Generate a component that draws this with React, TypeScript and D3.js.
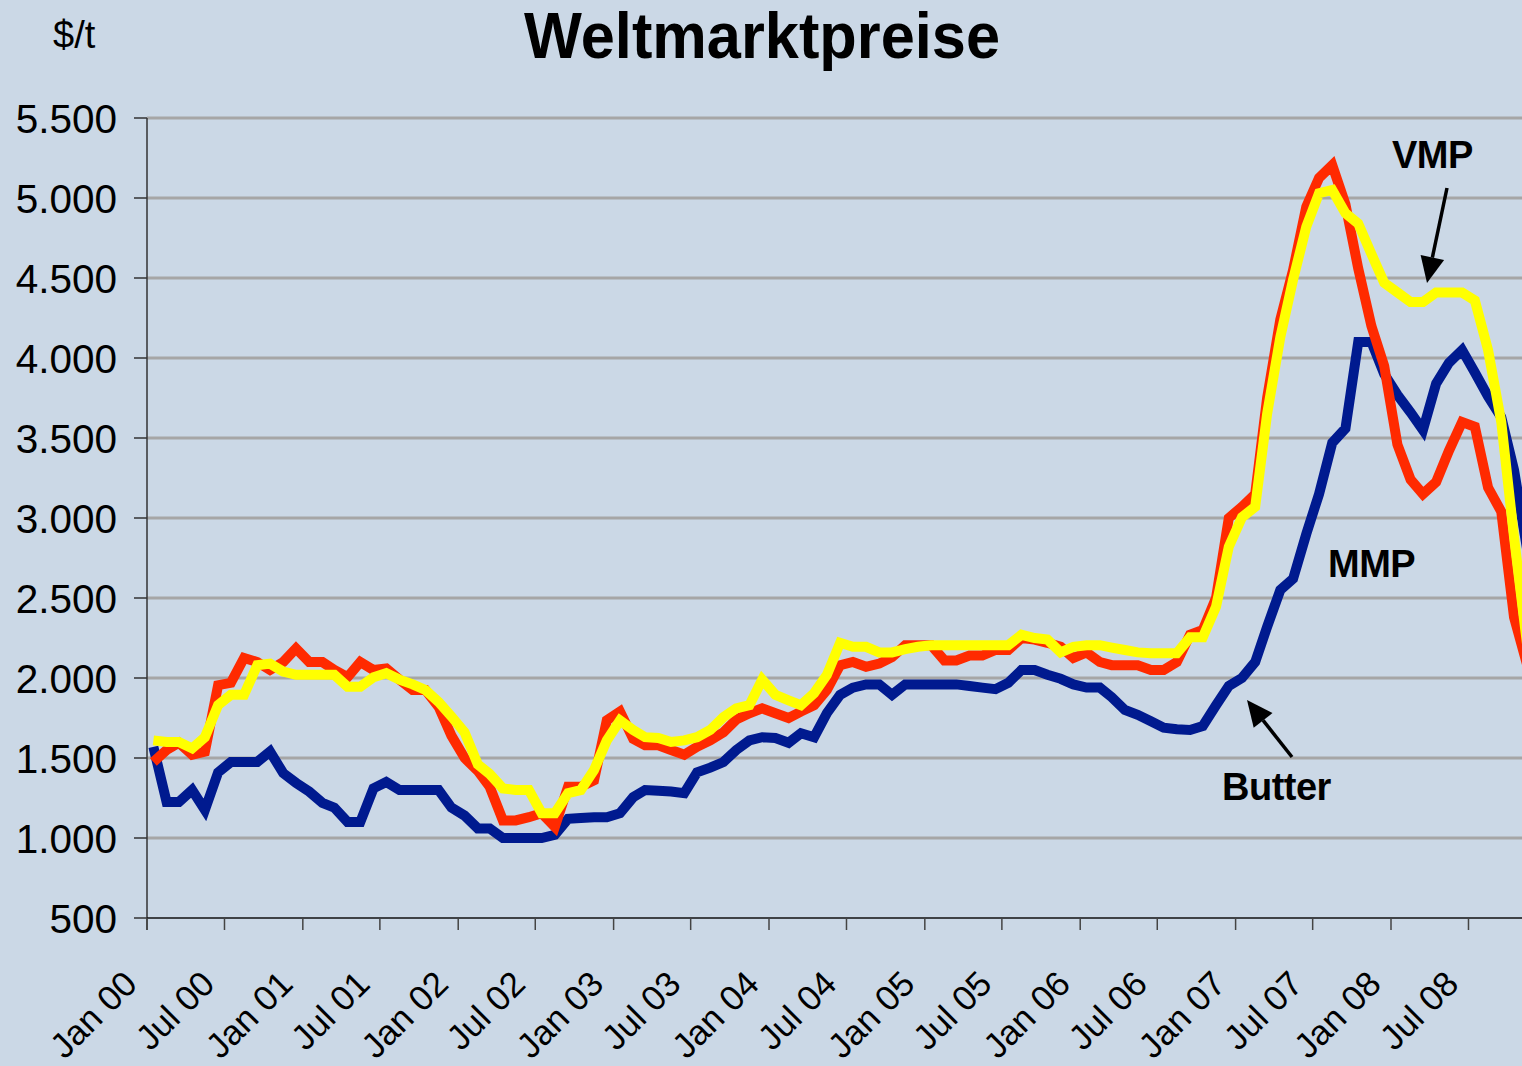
import React, { useEffect, useRef } from "react";
import * as d3 from "d3";

// monthly world market prices in $/t, Jan 2000 .. Nov 2008
const butter = [
  1570, 1225, 1225, 1300, 1175, 1410, 1475, 1475, 1475, 1540, 1405, 1345,
  1290, 1220, 1190, 1100, 1100, 1310, 1350, 1300, 1300, 1300, 1300, 1190,
  1140, 1060, 1060, 1000, 1000, 1000, 1000, 1020, 1120, 1125, 1130, 1130,
  1155, 1255, 1300, 1295, 1290, 1280, 1410, 1440, 1475, 1550, 1610, 1630,
  1625, 1595, 1655, 1630, 1780, 1895, 1940, 1960, 1960, 1895, 1960, 1960,
  1960, 1960, 1960, 1950, 1940, 1930, 1970, 2050, 2050, 2020, 1995, 1960,
  1940, 1940, 1880, 1800, 1770, 1730, 1690, 1680, 1675, 1700, 1830, 1950,
  2000, 2100, 2320, 2550, 2620, 2900, 3150, 3470, 3560, 4100, 4100, 3900,
  3770, 3660, 3550, 3840, 3970, 4050, 3910, 3760, 3630, 3300, 2800,
];

const mmp = [
  1475, 1550, 1595, 1520, 1540, 1955, 1970, 2125, 2100, 2050, 2100, 2185,
  2100, 2100, 2050, 2005, 2100, 2050, 2060, 1990, 1925, 1925, 1820, 1640,
  1500, 1420, 1320, 1110, 1110, 1130, 1155, 1070, 1320, 1320, 1360, 1735,
  1790, 1620, 1580, 1580, 1550, 1520, 1570, 1610, 1660, 1740, 1780, 1810,
  1780, 1750, 1790, 1830, 1925, 2080, 2100, 2070, 2090, 2130, 2205, 2205,
  2205, 2110, 2110, 2140, 2140, 2175, 2175, 2250, 2240, 2220, 2195, 2125,
  2160, 2100, 2080, 2080, 2080, 2050, 2050, 2100, 2270, 2300, 2500, 3000,
  3070, 3150, 3750, 4240, 4550, 4945, 5125, 5205, 4960, 4560, 4200, 3950,
  3460, 3240, 3150, 3225, 3420, 3600, 3570, 3190, 3040, 2380, 2080,
];

const vmp = [
  1610, 1600, 1600, 1560, 1630, 1830, 1895, 1895, 2080, 2090, 2040, 2020,
  2020, 2020, 2020, 1945, 1945, 2005, 2030, 1990, 1960, 1925, 1850, 1760,
  1660, 1460, 1400, 1310, 1300, 1300, 1155, 1155, 1280, 1300, 1425, 1610,
  1735, 1675, 1630, 1625, 1600, 1610, 1630, 1675, 1755, 1810, 1830, 1990,
  1895, 1860, 1830, 1905, 2020, 2220, 2195, 2195, 2160, 2160, 2180, 2195,
  2205, 2205, 2205, 2205, 2205, 2205, 2205, 2270, 2250, 2240, 2160, 2195,
  2205, 2205, 2190, 2175, 2160, 2155, 2155, 2155, 2255, 2255, 2445, 2820,
  3005, 3070, 3650, 4130, 4490, 4820, 5030, 5050, 4905, 4840, 4650, 4470,
  4410, 4350, 4350, 4410, 4410, 4410, 4360, 4050, 3600, 2880, 2200,
];

const yTicks = [500, 1000, 1500, 2000, 2500, 3000, 3500, 4000, 4500, 5000, 5500];

const W = 1522;
const H = 1066;
const FONT = "'Liberation Sans', Arial, Helvetica, sans-serif";

const deFormat = d3.formatLocale({
  decimal: ",",
  thousands: ".",
  grouping: [3],
  currency: ["", " €"],
}).format(",");

export default function App() {
  const ref = useRef<SVGSVGElement>(null);

  useEffect(() => {
    const svg = d3.select(ref.current);
    svg.selectAll("*").remove();

    const margin = { left: 147, top: 118, bottom: 918 };

    // data points sit in the middle of each month
    const dateOf = (i: number) => new Date(2000, i, 16);

    const xScale = d3
      .scaleTime()
      .domain([new Date(2000, 0, 1), new Date(2008, 0, 1)])
      .range([margin.left, 1391]);

    const yScale = d3
      .scaleLinear()
      .domain([500, 5500])
      .range([margin.bottom, margin.top]);

    svg.append("rect").attr("width", W).attr("height", H).attr("fill", "#cbd8e6");

    /** gridlines */
    svg
      .append("g")
      .selectAll("line")
      .data(yTicks.slice(1))
      .join("line")
      .attr("x1", margin.left)
      .attr("x2", W)
      .attr("y1", (d) => yScale(d))
      .attr("y2", (d) => yScale(d))
      .attr("stroke", "#a6a6a6")
      .attr("stroke-width", 3);

    /** y axis */
    const yAxis = svg.append("g");
    yAxis
      .append("line")
      .attr("x1", margin.left)
      .attr("x2", margin.left)
      .attr("y1", yScale(5500))
      .attr("y2", yScale(500) + 12)
      .attr("stroke", "#333")
      .attr("stroke-width", 1.5);
    yAxis
      .selectAll("line.tick")
      .data(yTicks)
      .join("line")
      .attr("class", "tick")
      .attr("x1", margin.left - 13)
      .attr("x2", margin.left)
      .attr("y1", (d) => yScale(d))
      .attr("y2", (d) => yScale(d))
      .attr("stroke", "#333")
      .attr("stroke-width", 1.5);
    yAxis
      .selectAll("text")
      .data(yTicks)
      .join("text")
      .attr("x", 117)
      .attr("y", (d) => yScale(d))
      .attr("dy", "0.36em")
      .attr("text-anchor", "end")
      .attr("font-family", FONT)
      .attr("font-size", 40.5)
      .attr("fill", "#000")
      .text((d) => deFormat(d));

    /** x axis */
    const xTicks = d3.timeMonth.every(6)!.range(new Date(2000, 0, 1), new Date(2009, 0, 1));
    const fmt = d3.timeFormat("%b %y");
    const xAxis = svg.append("g");
    xAxis
      .append("line")
      .attr("x1", margin.left)
      .attr("x2", W)
      .attr("y1", margin.bottom)
      .attr("y2", margin.bottom)
      .attr("stroke", "#111")
      .attr("stroke-width", 1.5);
    xAxis
      .selectAll("line.tick")
      .data(xTicks)
      .join("line")
      .attr("class", "tick")
      .attr("x1", (d) => xScale(d))
      .attr("x2", (d) => xScale(d))
      .attr("y1", margin.bottom)
      .attr("y2", margin.bottom + 12)
      .attr("stroke", "#444")
      .attr("stroke-width", 1.5);
    xAxis
      .selectAll("text")
      .data(xTicks)
      .join("text")
      .attr("transform", (d) => `translate(${xScale(d) - 8}, 986) rotate(-45)`)
      .attr("text-anchor", "end")
      .attr("font-family", FONT)
      .attr("font-size", 35)
      .attr("fill", "#000")
      .text((d) => fmt(d));

    /** series */
    const line = d3
      .line<number>()
      .x((_, i) => xScale(dateOf(i)))
      .y((d) => yScale(d));

    const series = [
      { values: butter, color: "#001a8f" },
      { values: mmp, color: "#ff2a00" },
      { values: vmp, color: "#ffff00" },
    ];
    svg
      .append("g")
      .selectAll("path")
      .data(series)
      .join("path")
      .attr("d", (d) => line(d.values))
      .attr("fill", "none")
      .attr("stroke", (d) => d.color)
      .attr("stroke-width", 10)
      .attr("stroke-linejoin", "miter")
      .attr("stroke-miterlimit", 3);

    /** title and unit */
    svg
      .append("text")
      .attr("x", 762)
      .attr("y", 58)
      .attr("text-anchor", "middle")
      .attr("font-family", FONT)
      .attr("font-weight", "bold")
      .attr("font-size", 64)
      .attr("textLength", 476)
      .attr("lengthAdjust", "spacingAndGlyphs")
      .text("Weltmarktpreise");
    svg
      .append("text")
      .attr("x", 53)
      .attr("y", 48)
      .attr("font-family", FONT)
      .attr("font-size", 38)
      .text("$/t");

    /** annotations */
    const labels = [
      { text: "VMP", x: 1392, y: 168 },
      { text: "MMP", x: 1328, y: 577 },
      { text: "Butter", x: 1222, y: 800 },
    ];
    svg
      .append("g")
      .selectAll("text")
      .data(labels)
      .join("text")
      .attr("x", (d) => d.x)
      .attr("y", (d) => d.y)
      .attr("font-family", FONT)
      .attr("font-weight", "bold")
      .attr("font-size", 38)
      .attr("letter-spacing", -0.5)
      .text((d) => d.text);

    const arrows = [
      { from: [1447, 188], to: [1427, 283] },
      { from: [1292, 757], to: [1247, 700] },
    ];
    const arrowGroup = svg.append("g");
    arrows.forEach((a) => {
      const [x1, y1] = a.from;
      const [x2, y2] = a.to;
      const len = Math.hypot(x2 - x1, y2 - y1);
      const ux = (x2 - x1) / len;
      const uy = (y2 - y1) / len;
      const headLen = 26;
      const headW = 12;
      const bx = x2 - ux * headLen;
      const by = y2 - uy * headLen;
      arrowGroup
        .append("line")
        .attr("x1", x1)
        .attr("y1", y1)
        .attr("x2", bx)
        .attr("y2", by)
        .attr("stroke", "#000")
        .attr("stroke-width", 3.5);
      arrowGroup
        .append("polygon")
        .attr(
          "points",
          [
            [x2, y2],
            [bx - uy * headW, by + ux * headW],
            [bx + uy * headW, by - ux * headW],
          ]
            .map((p) => p.join(","))
            .join(" ")
        )
        .attr("fill", "#000");
    });
  }, []);

  return (
    <div style={{ position: "absolute", left: 0, top: 0 }}>
      <svg ref={ref} width={W} height={H} style={{ display: "block" }} />
    </div>
  );
}
